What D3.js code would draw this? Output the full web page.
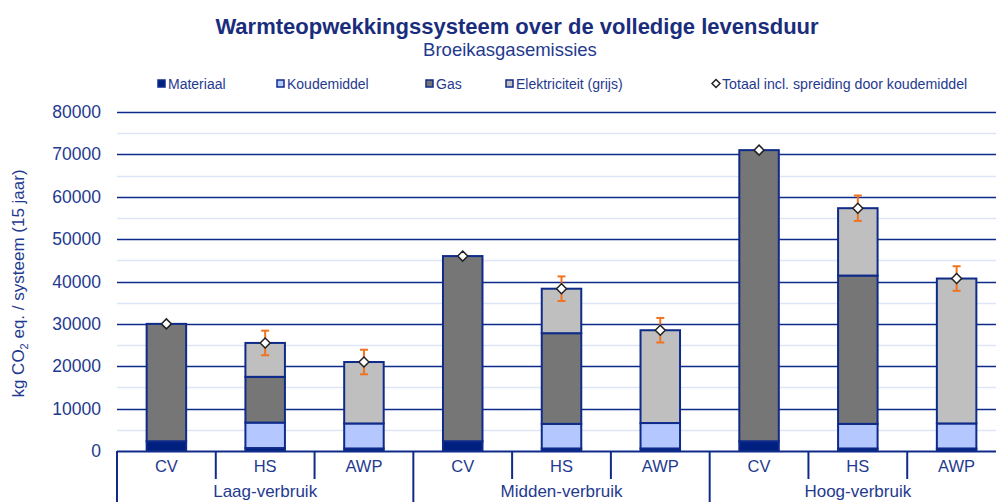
<!DOCTYPE html>
<html>
<head>
<meta charset="utf-8">
<script src="https://cdn.jsdelivr.net/npm/d3@7"></script>
<style>
  body { margin: 0; background: #fff; }
  svg { font-family: "Liberation Sans", Arial, sans-serif; }
</style>
</head>
<body>
<svg id="chart" width="996" height="502"></svg>
<script>
// Data
const groups = ["Laag-verbruik", "Midden-verbruik", "Hoog-verbruik"]
const systems = ["CV", "HS", "AWP"]
const seriesNames = ["Materiaal", "Koudemiddel", "Gas", "Elektriciteit (grijs)"]
const materiaal     = [2300,   700,   600, 2300,   600,   600, 2300,   600,   600]
const koudemiddel   = [   0,  6000,  5900,    0,  5800,  6000,    0,  5800,  5900]
const gas           = [27700, 10800,    0, 43700, 21400,    0, 68700, 35000,    0]
const elektriciteit = [   0,  8000, 14500,    0, 10500, 21900,    0, 15900, 34200]
const spreiding     = [   0,  2900,  2900,    0,  2900,  2900,    0,  3000,  2900]
const yTicks = [0, 10000, 20000, 30000, 40000, 50000, 60000, 70000, 80000]

const navy = "#0f2b8a"
const textColor = "#1f3a8f"
const colors = ["#002080", "#b4c8ff", "#767676", "#bfbfbf"]

const svg = d3.select("#chart")
const margin = {top: 112, bottom: 451, left: 117, right: 1006}

// Build rows for the stack
const rows = []
groups.forEach((g, gi) => systems.forEach((s, si) => {
  const i = gi * 3 + si
  rows.push({
    group: g, system: s,
    "Materiaal": materiaal[i],
    "Koudemiddel": koudemiddel[i],
    "Gas": gas[i],
    "Elektriciteit (grijs)": elektriciteit[i],
    total: materiaal[i] + koudemiddel[i] + gas[i] + elektriciteit[i],
    spread: spreiding[i]
  })
}))

const y = d3.scaleLinear().domain([0, 80000]).range([margin.bottom, margin.top])
const x0 = d3.scaleBand().domain(groups).range([margin.left, margin.right])
const x1 = d3.scaleBand().domain(systems).range([0, x0.bandwidth()])
    .paddingInner(0.6).paddingOuter(0.3)
const barX = d => x0(d.group) + x1(d.system)

// Gridlines (minor + major)
const minor = d3.range(5000, 80000, 10000)
svg.append("g").selectAll("line").data(minor).join("line")
    .attr("x1", margin.left).attr("x2", 996)
    .attr("y1", d => Math.round(y(d)) + 0.5).attr("y2", d => Math.round(y(d)) + 0.5)
    .attr("stroke", "#dde6f8").attr("stroke-width", 1.5)

svg.append("g").selectAll("line").data(yTicks.filter(d => d > 0)).join("line")
    .attr("x1", margin.left).attr("x2", 996)
    .attr("y1", d => Math.round(y(d)) + 0.5).attr("y2", d => Math.round(y(d)) + 0.5)
    .attr("stroke", navy).attr("stroke-width", 1.5)

// Y tick labels
svg.append("g").selectAll("text").data(yTicks).join("text")
    .attr("x", 101)
    .attr("y", d => y(d) + 6)
    .attr("text-anchor", "end")
    .attr("fill", textColor)
    .attr("font-size", 17.5)
    .text(d => d)

// Y axis title
const yTitle = svg.append("text")
    .attr("transform", `translate(24,${(margin.top + margin.bottom) / 2 + 2}) rotate(-90)`)
    .attr("text-anchor", "middle")
    .attr("fill", textColor)
    .attr("font-size", 17)
yTitle.append("tspan").text("kg CO")
yTitle.append("tspan").attr("font-size", 11).attr("dy", 4).text("2")
yTitle.append("tspan").attr("dy", -4).text(" eq. / systeem (15 jaar)")

// Stacked bars
const stack = d3.stack().keys(seriesNames)
const layers = stack(rows)
svg.append("g").selectAll("g").data(layers).join("g")
    .attr("fill", (d, i) => colors[i])
  .selectAll("rect").data(d => d.filter(p => p[1] - p[0] > 0)).join("rect")
    .attr("x", p => barX(p.data))
    .attr("width", x1.bandwidth())
    .attr("y", p => y(p[1]))
    .attr("height", p => y(p[0]) - y(p[1]))
    .attr("stroke", navy)
    .attr("stroke-width", 2)

// Category axis box
svg.append("line")
    .attr("x1", margin.left).attr("x2", 996)
    .attr("y1", margin.bottom + 0.5).attr("y2", margin.bottom + 0.5)
    .attr("stroke", navy).attr("stroke-width", 2)

const sepCat = []
groups.forEach(g => systems.slice(1).forEach(s => sepCat.push(x0(g) + x1.step() * systems.indexOf(s))))
svg.append("g").selectAll("line").data(sepCat).join("line")
    .attr("x1", d => d).attr("x2", d => d)
    .attr("y1", margin.bottom).attr("y2", 479)
    .attr("stroke", navy).attr("stroke-width", 2)

svg.append("g").selectAll("line").data(groups).join("line")
    .attr("x1", d => x0(d)).attr("x2", d => x0(d))
    .attr("y1", margin.bottom).attr("y2", 502)
    .attr("stroke", navy).attr("stroke-width", 2)

svg.append("g").selectAll("text").data(rows).join("text")
    .attr("x", d => barX(d) + x1.bandwidth() / 2)
    .attr("y", 472)
    .attr("text-anchor", "middle")
    .attr("fill", textColor)
    .attr("font-size", 16.5)
    .text(d => d.system)

svg.append("g").selectAll("text").data(groups).join("text")
    .attr("x", d => x0(d) + x0.bandwidth() / 2)
    .attr("y", 497)
    .attr("text-anchor", "middle")
    .attr("fill", textColor)
    .attr("font-size", 17)
    .text(d => d)

// Error bars (spreiding door koudemiddel)
const errRows = rows.filter(d => d.spread > 0)
const eb = svg.append("g").attr("stroke", "#f07320").attr("stroke-width", 2)
eb.selectAll(".v").data(errRows).join("line")
    .attr("x1", d => barX(d) + x1.bandwidth() / 2).attr("x2", d => barX(d) + x1.bandwidth() / 2)
    .attr("y1", d => y(d.total + d.spread)).attr("y2", d => y(d.total - d.spread))
eb.selectAll(".t").data(errRows).join("line")
    .attr("x1", d => barX(d) + x1.bandwidth() / 2 - 4).attr("x2", d => barX(d) + x1.bandwidth() / 2 + 4)
    .attr("y1", d => y(d.total + d.spread)).attr("y2", d => y(d.total + d.spread))
eb.selectAll(".b").data(errRows).join("line")
    .attr("x1", d => barX(d) + x1.bandwidth() / 2 - 4).attr("x2", d => barX(d) + x1.bandwidth() / 2 + 4)
    .attr("y1", d => y(d.total - d.spread)).attr("y2", d => y(d.total - d.spread))

// Totals as diamonds
svg.append("g").selectAll("path").data(rows).join("path")
    .attr("transform", d => `translate(${barX(d) + x1.bandwidth() / 2},${y(d.total)})`)
    .attr("d", "M0,-5L5,0L0,5L-5,0Z")
    .attr("fill", "#fff")
    .attr("stroke", "#222")
    .attr("stroke-width", 1.5)

// Title
svg.append("text")
    .attr("x", 517).attr("y", 34)
    .attr("text-anchor", "middle")
    .attr("font-weight", "bold")
    .attr("font-size", 22)
    .attr("fill", "#1a2d7c")
    .text("Warmteopwekkingssysteem over de volledige levensduur")
svg.append("text")
    .attr("x", 510).attr("y", 56)
    .attr("text-anchor", "middle")
    .attr("font-size", 18.5)
    .attr("fill", textColor)
    .text("Broeikasgasemissies")

// Legend
const legendX = [157, 276, 425, 505]
const legend = svg.append("g")
seriesNames.forEach((name, i) => {
  legend.append("rect")
      .attr("x", legendX[i] + 1).attr("y", 80)
      .attr("width", 7).attr("height", 7)
      .attr("fill", colors[i])
      .attr("stroke", navy).attr("stroke-width", 1.5)
  legend.append("text")
      .attr("x", legendX[i] + 11).attr("y", 89)
      .attr("fill", textColor).attr("font-size", 14)
      .text(name)
})
legend.append("path")
    .attr("transform", "translate(716,83.5)")
    .attr("d", "M0,-4L4,0L0,4L-4,0Z")
    .attr("fill", "#fff").attr("stroke", "#222").attr("stroke-width", 1.5)
legend.append("text")
    .attr("x", 722).attr("y", 89)
    .attr("fill", textColor).attr("font-size", 14.2)
    .text("Totaal incl. spreiding door koudemiddel")
</script>
</body>
</html>
